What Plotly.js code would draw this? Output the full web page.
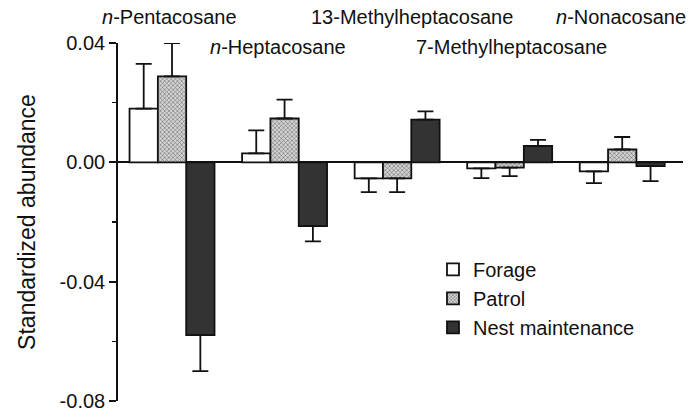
<!DOCTYPE html>
<html>
<head>
<meta charset="utf-8">
<script src="https://cdn.plot.ly/plotly-3.0.1.min.js"></script>
<style>html,body{margin:0;padding:0;background:#fff;}</style>
</head>
<body>
<div id="chart" style="width:693px;height:419px;"></div>
<script>
const categories = ["n-Pentacosane", "n-Heptacosane", "13-Methylheptacosane", "7-Methylheptacosane", "n-Nonacosane"];
const categoryLabels = ["<i>n</i>-Pentacosane", "<i>n</i>-Heptacosane", "13-Methylheptacosane", "7-Methylheptacosane", "<i>n</i>-Nonacosane"];
const seriesNames = ["Forage", "Patrol", "Nest maintenance"];
const forage = [0.018, 0.003, -0.0054, -0.002, -0.003];
const forageErr = [0.015, 0.0077, 0.0046, 0.0033, 0.004];
const patrol = [0.0288, 0.0147, -0.0054, -0.0018, 0.0043];
const patrolErr = [0.0112, 0.0063, 0.0046, 0.0028, 0.0042];
const nest = [-0.0579, -0.0214, 0.0143, 0.0055, -0.0013];
const nestErr = [0.0121, 0.0051, 0.0028, 0.002, 0.005];
const yTickVals = [0.04, 0, -0.04, -0.08];
const yTickText = ["0.04", "0.00", "-0.04", "-0.08"];

const FONT = "Liberation Sans, Arial, Helvetica, sans-serif";

function errFor(vals, errs) {
  return {
    type: "data", symmetric: false,
    array: vals.map((v, i) => v >= 0 ? errs[i] : 0),
    arrayminus: vals.map((v, i) => v < 0 ? errs[i] : 0),
    color: "#111", thickness: 1.8, width: 8
  };
}

const traces = [
  {type: "bar", name: seriesNames[0], x: categories, y: forage,
   marker: {color: "#ffffff", line: {color: "#111", width: 1.8}},
   error_y: errFor(forage, forageErr)},
  {type: "bar", name: seriesNames[1], x: categories, y: patrol,
   marker: {color: "#d0d0d0", line: {color: "#111", width: 1.8},
            pattern: {shape: "x", size: 3, solidity: 0.3, fgcolor: "#555", bgcolor: "#d4d4d4"}},
   error_y: errFor(patrol, patrolErr)},
  {type: "bar", name: seriesNames[2], x: categories, y: nest,
   marker: {color: "#333333", line: {color: "#111", width: 1.8}},
   error_y: errFor(nest, nestErr)}
];

const rowY = [1.0726, 0.989, 1.0726, 0.989, 1.0726];
const xShift = [-3, -7, 15, 2, -1];
const annotations = categories.map((c, i) => ({
  x: c, y: rowY[i], xref: "x", yref: "paper", text: categoryLabels[i],
  showarrow: false, xanchor: "center", yanchor: "middle", xshift: xShift[i],
  font: {family: FONT, size: 20, color: "#111"}
}));

const layout = {
  width: 693, height: 419,
  margin: {l: 118, r: 10, t: 43, b: 18},
  paper_bgcolor: "#fff", plot_bgcolor: "#fff",
  barmode: "group", bargap: 0.245, bargroupgap: 0,
  showlegend: true,
  legend: {x: 0.5575, xanchor: "left", y: 0.422, yanchor: "top",
           font: {family: FONT, size: 20, color: "#111"},
           traceorder: "normal", bgcolor: "rgba(0,0,0,0)"},
  xaxis: {range: [-0.48, 4.54], showticklabels: false, ticks: "", showline: false,
          showgrid: false, zeroline: false, fixedrange: true},
  yaxis: {range: [-0.08, 0.04], tickvals: yTickVals, ticktext: yTickText,
          ticks: "outside", ticklen: 7, tickwidth: 1.8, tickcolor: "#111",
          minor: {dtick: 0.02, tick0: 0, ticks: "outside", ticklen: 4, tickwidth: 1.5, tickcolor: "#111", showgrid: false},
          showline: true, linecolor: "#111", linewidth: 1.8,
          showgrid: false, zeroline: true, zerolinecolor: "#111", zerolinewidth: 1.8,
          tickfont: {family: FONT, size: 20, color: "#111"},
          title: {text: "Standardized abundance", font: {family: FONT, size: 23, color: "#111"}, standoff: 17}},
  annotations: annotations
};

Plotly.newPlot("chart", traces, layout, {displayModeBar: false, staticPlot: true});
</script>
</body>
</html>
